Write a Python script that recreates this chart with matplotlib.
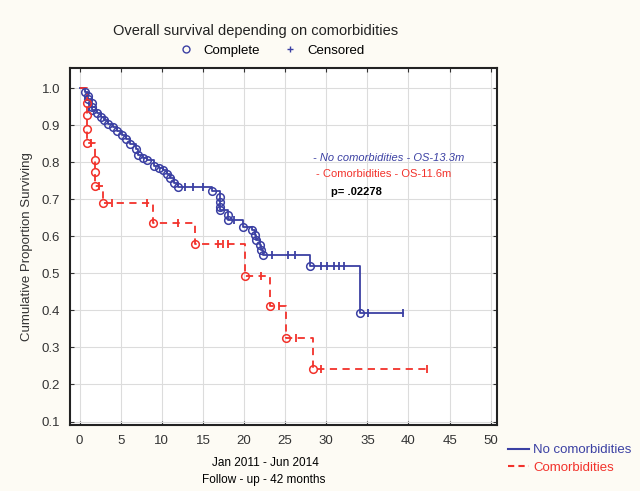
import numpy as np
import matplotlib
matplotlib.use("Agg")
import matplotlib.pyplot as plt
from matplotlib.lines import Line2D

plt.rcParams['font.family'] = ['Liberation Sans', 'DejaVu Sans']

# No comorbidities: event (complete) times and survival after each event
blue_t = [0.6, 1.0, 1.0, 1.5, 1.5, 1.5, 2.1, 2.6, 3.0, 3.5, 4.0, 4.6, 5.1, 5.6, 6.1,
          6.9, 7.1, 7.7, 8.2, 9.1, 9.6, 10.1, 10.6, 11.0, 11.5, 12.0, 16.1, 17.1,
          17.1, 17.1, 17.1, 18.1, 18.1, 19.9, 21.0, 21.3, 21.5, 21.9, 22.1, 22.3,
          28.0, 34.1]
blue_s = [0.99, 0.978, 0.97, 0.96, 0.95, 0.942, 0.932, 0.922, 0.913, 0.904, 0.895,
          0.884, 0.873, 0.862, 0.85, 0.837, 0.82, 0.812, 0.805, 0.79, 0.785, 0.778,
          0.768, 0.757, 0.745, 0.733, 0.722, 0.706, 0.692, 0.68, 0.67, 0.657, 0.643,
          0.624, 0.616, 0.603, 0.589, 0.576, 0.562, 0.549, 0.519, 0.392]
blue_cens_t = [12.8, 13.8, 15.0, 18.8, 23.4, 25.4, 26.2, 29.3, 30.1, 30.9, 31.5, 32.1, 35.1, 39.3]
blue_cens_s = [0.733, 0.733, 0.733, 0.643, 0.549, 0.549, 0.549, 0.519, 0.519, 0.519,
               0.519, 0.519, 0.392, 0.392]

# Comorbidities
red_t = [0.9, 0.9, 0.9, 0.9, 1.9, 1.9, 1.9, 2.8, 8.9, 14.0, 20.1, 23.2, 25.1, 28.4]
red_s = [0.96, 0.927, 0.89, 0.852, 0.805, 0.773, 0.735, 0.69, 0.636, 0.58, 0.494,
         0.413, 0.326, 0.243]
red_cens_t = [1.4, 2.3, 3.9, 8.2, 12.0, 16.8, 17.4, 18.0, 22.1, 24.3, 26.3, 29.3, 42.3]
red_cens_s = [0.852, 0.735, 0.69, 0.69, 0.636, 0.58, 0.58, 0.58, 0.494, 0.413, 0.326,
              0.243, 0.243]

x_ticks = np.arange(0, 51, 5)
y_ticks = np.arange(0.1, 1.01, 0.1)

BLUE = '#3b40a3'
RED = '#f2322b'

fig = plt.figure(figsize=(6.4, 4.91), dpi=100, facecolor='#fdfbf4')
ax = fig.add_axes([0.109, 0.134, 0.668, 0.728])
ax.set_facecolor('white')


def km_path(times, surv, end_t):
    xs = [0.0] + list(times) + [end_t]
    ys = [1.0] + list(surv) + [surv[-1]]
    return xs, ys


bx, by = km_path(blue_t, blue_s, max(blue_cens_t))
rx, ry = km_path(red_t, red_s, max(red_cens_t))

ax.step(bx, by, where='post', color=BLUE, lw=1.3, zorder=3)
ax.step(rx, ry, where='post', color=RED, lw=1.3, dashes=(4, 3), zorder=3)

ax.plot(blue_t, blue_s, 'o', ms=5.5, mfc='none', mec=BLUE, mew=1.1, zorder=4)
ax.plot(red_t, red_s, 'o', ms=5.5, mfc='none', mec=RED, mew=1.1, zorder=4)
ax.plot(blue_cens_t, blue_cens_s, '|', ms=6, color=BLUE, mew=1.3, zorder=4)
ax.plot(red_cens_t, red_cens_s, '|', ms=6, color=RED, mew=1.3, zorder=4)

ax.set_xlim(-1.2, 50.8)
ax.set_ylim(0.09, 1.055)
ax.set_xticks(x_ticks)
ax.set_yticks(y_ticks)
ax.set_yticklabels([f'{v:.1f}' for v in y_ticks])
ax.grid(True, color='#dcdcdc', lw=0.8)
ax.set_axisbelow(True)
ax.tick_params(direction='in', top=True, right=True, length=3, labelsize=9.5,
               colors='#333333', pad=7)
for sp in ax.spines.values():
    sp.set_linewidth(1.5)
    sp.set_color('#222222')

ax.text(0.57, 0.74, '- No comorbidities - OS-13.3m', transform=ax.transAxes,
        color=BLUE, fontsize=8, style='italic')
ax.text(0.575, 0.695, '- Comorbidities - OS-11.6m', transform=ax.transAxes,
        color=RED, fontsize=8)
ax.text(0.61, 0.645, 'p= .02278', transform=ax.transAxes, color='black',
        fontsize=8, fontweight='bold')

fig.text(0.40, 0.937, 'Overall survival depending on comorbidities', ha='center',
         va='center', fontsize=10.5, color='#222222')
top_handles = [Line2D([], [], ls='none', marker='o', ms=5, mfc='none', mec=BLUE),
               Line2D([], [], ls='none', marker='+', ms=5, color=BLUE)]
fig.legend(top_handles, ['Complete', 'Censored'], ncol=2, frameon=False,
           loc='center', bbox_to_anchor=(0.42, 0.897), fontsize=9.5,
           handletextpad=0.3, columnspacing=1.3)

ax.set_ylabel('Cumulative Proportion Surviving', fontsize=9.5, color='#333333', labelpad=6)
fig.text(0.414, 0.057, 'Jan 2011 - Jun 2014', ha='center', va='center', fontsize=8.5)
fig.text(0.412, 0.022, 'Follow - up - 42 months', ha='center', va='center', fontsize=8.5)

bot_handles = [Line2D([], [], color=BLUE, lw=1.5),
               Line2D([], [], color=RED, lw=1.5, dashes=(3, 2))]
leg = fig.legend(bot_handles, ['No comorbidities', 'Comorbidities'], frameon=False,
                 loc='upper left', bbox_to_anchor=(0.775, 0.12), fontsize=9.5,
                 handlelength=1.6, handletextpad=0.3, labelspacing=0.4)
for txt, c in zip(leg.get_texts(), [BLUE, RED]):
    txt.set_color(c)

fig.savefig('out.png', dpi=100, facecolor=fig.get_facecolor())
